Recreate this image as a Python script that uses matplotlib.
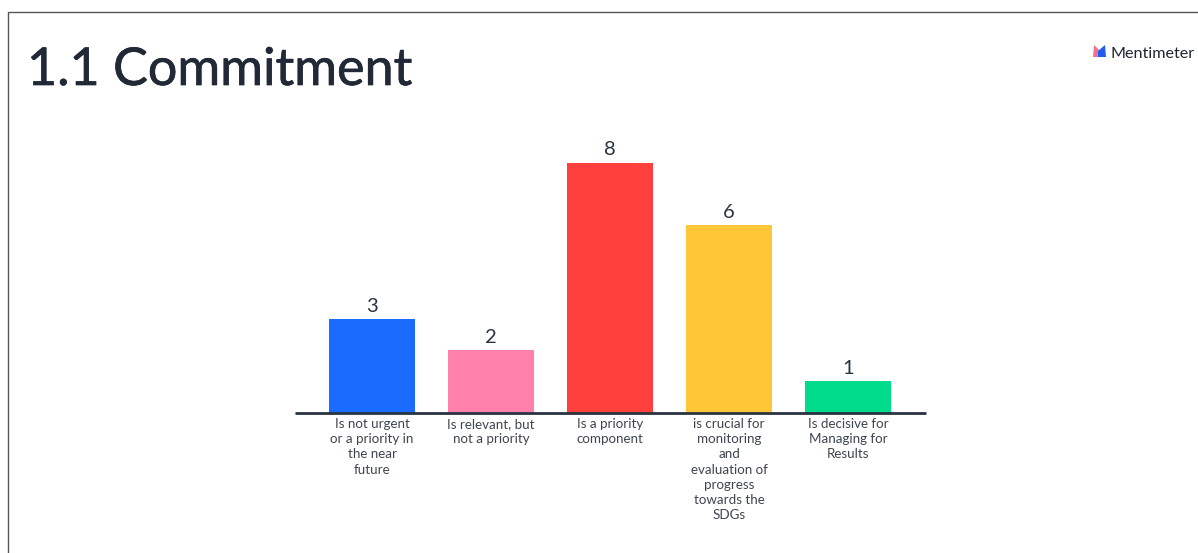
import matplotlib
matplotlib.use("Agg")
import matplotlib.pyplot as plt
import matplotlib.patheffects as pe
from matplotlib.lines import Line2D
from matplotlib.patches import Polygon

W, H = 1198, 553

categories = [
    "Is not urgent\nor a priority in\nthe near\nfuture",
    "Is relevant, but\nnot a priority",
    "Is a priority\ncomponent",
    "is crucial for\nmonitoring\nand\nevaluation of\nprogress\ntowards the\nSDGs",
    "Is decisive for\nManaging for\nResults",
]
votes = [3, 2, 8, 6, 1]
colors = ["#196CFF", "#FF80AB", "#FF403D", "#FFC738", "#00DC8C"]

plt.rcParams["font.family"] = ["Lato", "DejaVu Sans"]

fig = plt.figure(figsize=(W / 100, H / 100), dpi=100, facecolor="white")


def fx(px):
    return px / W


def fy(py):
    return 1 - py / H


# chart area, bars stand on y=412.5px
ax = fig.add_axes([fx(295), fy(412.5), (926 - 295) / W, (412.5 - 100) / H])
ax.bar(range(len(votes)), votes, width=0.723, color=colors)
ax.set_xlim(-0.647, 4.655)
ax.set_ylim(0, 312.5 / 31.25)
ax.patch.set_visible(False)
for s in ["top", "left", "right"]:
    ax.spines[s].set_visible(False)
ax.spines["bottom"].set_color("#2A3340")
ax.spines["bottom"].set_linewidth(2.0)
ax.spines["bottom"].set_capstyle("butt")
ax.set_yticks([])
ax.set_xticks(range(len(votes)))
ax.set_xticklabels(categories, fontsize=9.6, color="#3E4550", linespacing=1.32)
ax.tick_params(axis="x", length=0, pad=4)

for i, v in enumerate(votes):
    ax.annotate(str(v), (i, v), xytext=(0, 3), textcoords="offset points",
                ha="center", va="bottom", fontsize=14.5, color="#2A3340")

# slide border
fig.add_artist(Line2D([fx(8), fx(8), 1], [0, fy(12), fy(12)], color="#555555", lw=1.0))

title = fig.text(fx(27), fy(85), "1.1 Commitment", fontsize=37.5, color="#212936",
                 ha="left", va="baseline")
title.set_path_effects([pe.withStroke(linewidth=0.5, foreground="#212936")])

# logo mark and wordmark
fig.add_artist(Polygon([(fx(1093), fy(57)), (fx(1094), fy(45)), (fx(1101), fy(52)), (fx(1101), fy(57))],
                       closed=True, transform=fig.transFigure, facecolor="#F4708F", edgecolor="none"))
fig.add_artist(Polygon([(fx(1098), fy(51)), (fx(1105), fy(45)), (fx(1106), fy(57)), (fx(1098), fy(57))],
                       closed=True, transform=fig.transFigure, facecolor="#1F5FEF", edgecolor="none"))
fig.text(fx(1110), fy(57.5), "Mentimeter", fontsize=11.6, color="#1E2530", ha="left", va="baseline")

fig.savefig("out.png", dpi=100)
